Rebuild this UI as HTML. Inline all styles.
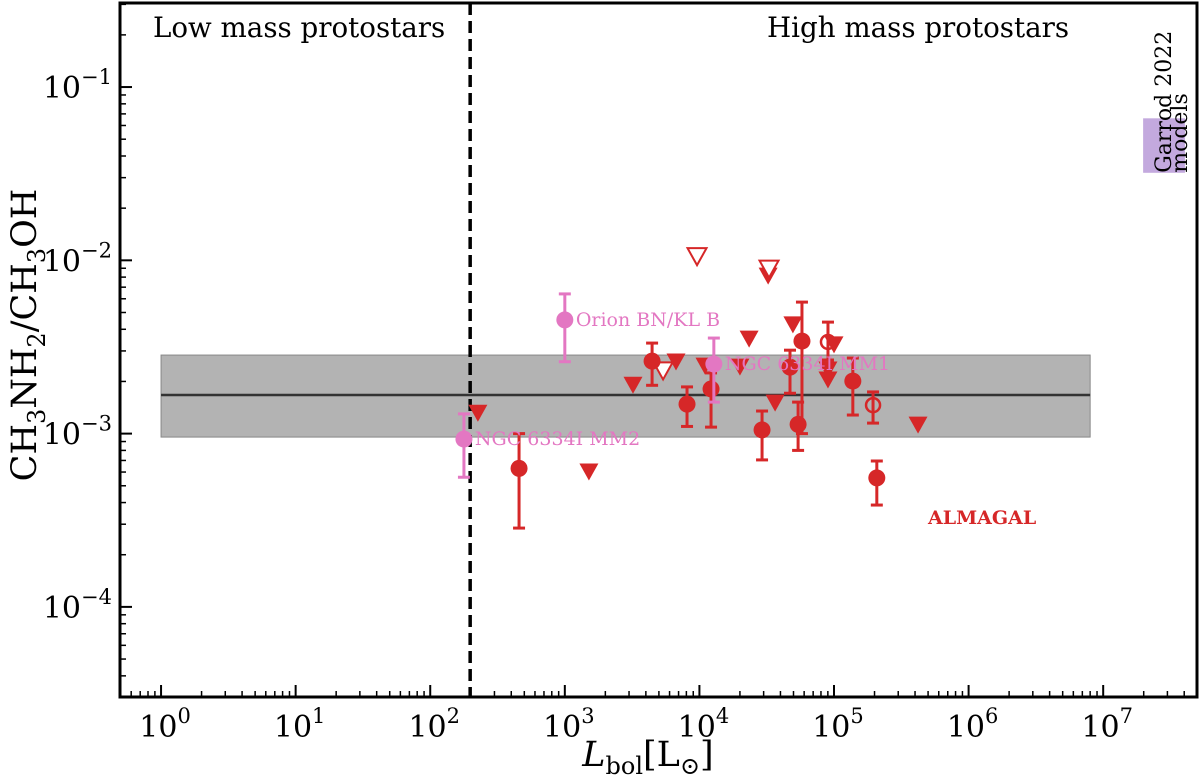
<!DOCTYPE html>
<html><head><meta charset="utf-8"><style>
html,body{margin:0;padding:0;background:#fff;}
svg{display:block;font-family:"DejaVu Serif","Liberation Serif",serif;}
</style></head><body>
<svg id="chart" width="1200" height="775" viewBox="0 0 1200 775"></svg>
<script>
// ---- data ----
const detL   = [457, 4450, 8090, 12200, 29200, 47100, 54100, 57800, 138000, 208000];
const detR   = [6.3e-4, 2.62e-3, 1.48e-3, 1.81e-3, 1.05e-3, 2.42e-3, 1.13e-3, 3.42e-3, 2.01e-3, 5.55e-4];
const detHi  = [1.0e-3, 3.33e-3, 1.86e-3, 2.24e-3, 1.35e-3, 3.03e-3, 1.52e-3, 5.74e-3, 2.73e-3, 6.95e-4];
const detLo  = [2.85e-4, 1.9e-3, 1.1e-3, 1.09e-3, 7.05e-4, 1.71e-3, 8.0e-4, 1.0e-3, 1.28e-3, 3.87e-4];
const openL  = [90200, 195000];
const openR  = [3.38e-3, 1.46e-3];
const openHi = [4.4e-3, 1.74e-3];
const openLo = [2.66e-3, 1.15e-3];
const ulL = [226, 1510, 3210, 6700, 11000, 20000, 23400, 32400, 36500, 49500, 100000, 90200, 90200, 421000];
const ulR = [1.31e-3, 6.0e-4, 1.9e-3, 2.59e-3, 2.45e-3, 2.42e-3, 3.51e-3, 8.1e-3, 1.5e-3, 4.24e-3, 3.25e-3, 2.33e-3, 2.04e-3, 1.12e-3];
const ulOpenL = [9600, 32900, 5370];
const ulOpenR = [1.05e-2, 8.9e-3, 2.3e-3];
const litNames = ["NGC 6334I MM2", "Orion BN/KL B", "NGC 6334I MM1"];
const litL  = [178, 1000, 12800];
const litR  = [9.3e-4, 4.53e-3, 2.52e-3];
const litHi = [1.3e-3, 6.4e-3, 3.56e-3];
const litLo = [5.6e-4, 2.6e-3, 1.52e-3];
const bandMid = 1.67e-3, bandLo = 9.55e-4, bandHi = 2.84e-3;
const bandX = [1, 8e6];
const garrodX = [1.98e7, 4.05e7], garrodY = [3.2e-2, 6.6e-2];
const divideL = 198;
const xTickExp = [0,1,2,3,4,5,6,7];
const yTickExp = [-1,-2,-3,-4];

// ---- axes ----
const PL=120, PR=1197, PT=3, PB=697;
const xmin=-0.305, xmax=7.697, ymin=-4.52, ymax=-0.515;
const X=v=>PL+(Math.log10(v)-xmin)/(xmax-xmin)*(PR-PL);
const Y=v=>PB-(Math.log10(v)-ymin)/(ymax-ymin)*(PB-PT);
const svg=document.getElementById('chart');
const NS='http://www.w3.org/2000/svg';
function mk(tag,at,parent){const e=document.createElementNS(NS,tag);for(const k in at)e.setAttribute(k,at[k]);(parent||svg).appendChild(e);return e;}
const RED='#d62728', PINK='#e377c2';

let e=mk('rect',{x:X(bandX[0]),y:Y(bandHi),width:X(bandX[1])-X(bandX[0]),height:Y(bandLo)-Y(bandHi),fill:'#b3b3b3',stroke:'#888','stroke-width':1});


e=mk('line',{x1:X(bandX[0]),x2:X(bandX[1]),y1:Y(bandMid),y2:Y(bandMid),stroke:'#333','stroke-width':2.5});


e=mk('rect',{x:X(garrodX[0]),y:Y(garrodY[1]),width:X(garrodX[1])-X(garrodX[0]),height:Y(garrodY[0])-Y(garrodY[1]),fill:'#b89ad8',opacity:0.85});


const gx=X(garrodX[0])+28, gy=Y(garrodY[0]);
e=mk('text',{x:0,y:0,transform:`translate(${gx},${gy}) rotate(-90)`,'font-size':22,fill:'#000'});
e.textContent='Garrod 2022';


e=mk('text',{x:0,y:0,transform:`translate(${gx+16},${gy}) rotate(-90)`,'font-size':22,fill:'#000'});
e.textContent='models';


e=mk('line',{x1:X(divideL),x2:X(divideL),y1:PT,y2:PB,stroke:'#000','stroke-width':3.5,'stroke-dasharray':'12,6'});



function errbar(x,lo,hi,col){
  mk('line',{x1:x,x2:x,y1:Y(hi),y2:Y(lo),stroke:col,'stroke-width':3});
  mk('line',{x1:x-6,x2:x+6,y1:Y(hi),y2:Y(hi),stroke:col,'stroke-width':3});
  mk('line',{x1:x-6,x2:x+6,y1:Y(lo),y2:Y(lo),stroke:col,'stroke-width':3});
}
function tri(x,y,fill){return mk('polygon',{points:`${x-9.5},${y-8.5} ${x+9.5},${y-8.5} ${x},${y+8.5}`,fill:fill?RED:'#fff',stroke:RED,'stroke-width':fill?0:2});}
for(let i=0;i<ulL.length;i++){e=tri(X(ulL[i]),Y(ulR[i]),true);
  
  }
for(let i=0;i<ulOpenL.length;i++){e=tri(X(ulOpenL[i]),Y(ulOpenR[i]),false);
  
  }
for(let i=0;i<detL.length;i++){const x=X(detL[i]);errbar(x,detLo[i],detHi[i],RED);
  e=mk('circle',{cx:x,cy:Y(detR[i]),r:8.5,fill:RED});
  
  }
for(let i=0;i<openL.length;i++){const x=X(openL[i]);errbar(x,openLo[i],openHi[i],RED);
  e=mk('circle',{cx:x,cy:Y(openR[i]),r:7,fill:'none',stroke:RED,'stroke-width':2.5});
  
  }
for(let i=0;i<litL.length;i++){const x=X(litL[i]);errbar(x,litLo[i],litHi[i],PINK);
  e=mk('circle',{cx:x,cy:Y(litR[i]),r:8.5,fill:PINK});
  
  
  e=mk('text',{x:x+11,y:Y(litR[i])+6,'font-size':19,fill:PINK});
  e.textContent=litNames[i];
  
  }

e=mk('rect',{x:PL,y:PT,width:PR-PL,height:PB-PT,fill:'none',stroke:'#000','stroke-width':3});


for(const k of xTickExp){const x=X(Math.pow(10,k));
  mk('line',{x1:x,x2:x,y1:PB,y2:PB-12,stroke:'#000','stroke-width':2});
  e=mk('text',{x:x+4,y:PB+40,'font-size':30,'text-anchor':'middle'});
  e.innerHTML=`10<tspan dy="-14" font-size="21">${k}</tspan>`;
  
  }
for(let k=-1;k<=7;k++)for(let m=2;m<10;m++){const v=m*Math.pow(10,k),x=X(v);if(x>PL&&x<PR)mk('line',{x1:x,x2:x,y1:PB,y2:PB-6,stroke:'#000','stroke-width':1.5});}
for(const k of yTickExp){const y=Y(Math.pow(10,k));
  mk('line',{x1:PL,x2:PL+12,y1:y,y2:y,stroke:'#000','stroke-width':2});
  e=mk('text',{x:PL-8,y:y+11,'font-size':30,'text-anchor':'end'});
  e.innerHTML=`10<tspan dy="-14" font-size="21">−${-k}</tspan>`;
  
  }
for(let k=-5;k<=0;k++)for(let m=2;m<10;m++){const v=m*Math.pow(10,k),y=Y(v);if(y>PT&&y<PB)mk('line',{x1:PL,x2:PL+6,y1:y,y2:y,stroke:'#000','stroke-width':1.5});}

e=mk('text',{x:153,y:37,'font-size':27.7});e.textContent='Low mass protostars';


e=mk('text',{x:767,y:37,'font-size':27.7});e.textContent='High mass protostars';


e=mk('text',{x:928,y:524,'font-size':19,'font-weight':'bold',fill:RED});e.textContent='ALMAGAL';


e=mk('text',{x:0,y:0,transform:'translate(36,335) rotate(-90)','font-size':35,'text-anchor':'middle'});
e.innerHTML='CH<tspan dy="9" font-size="24">3</tspan><tspan dy="-9">NH</tspan><tspan dy="9" font-size="24">2</tspan><tspan dy="-9">/CH</tspan><tspan dy="9" font-size="24">3</tspan><tspan dy="-9">OH</tspan>';


e=mk('text',{x:648,y:766,'font-size':35,'text-anchor':'middle'});
e.innerHTML='<tspan font-style="italic">L</tspan><tspan dy="8" font-size="24">bol</tspan><tspan dy="-8">[L</tspan><tspan dy="8" font-size="24">⊙</tspan><tspan dy="-8">]</tspan>';


</script>
</body></html>
